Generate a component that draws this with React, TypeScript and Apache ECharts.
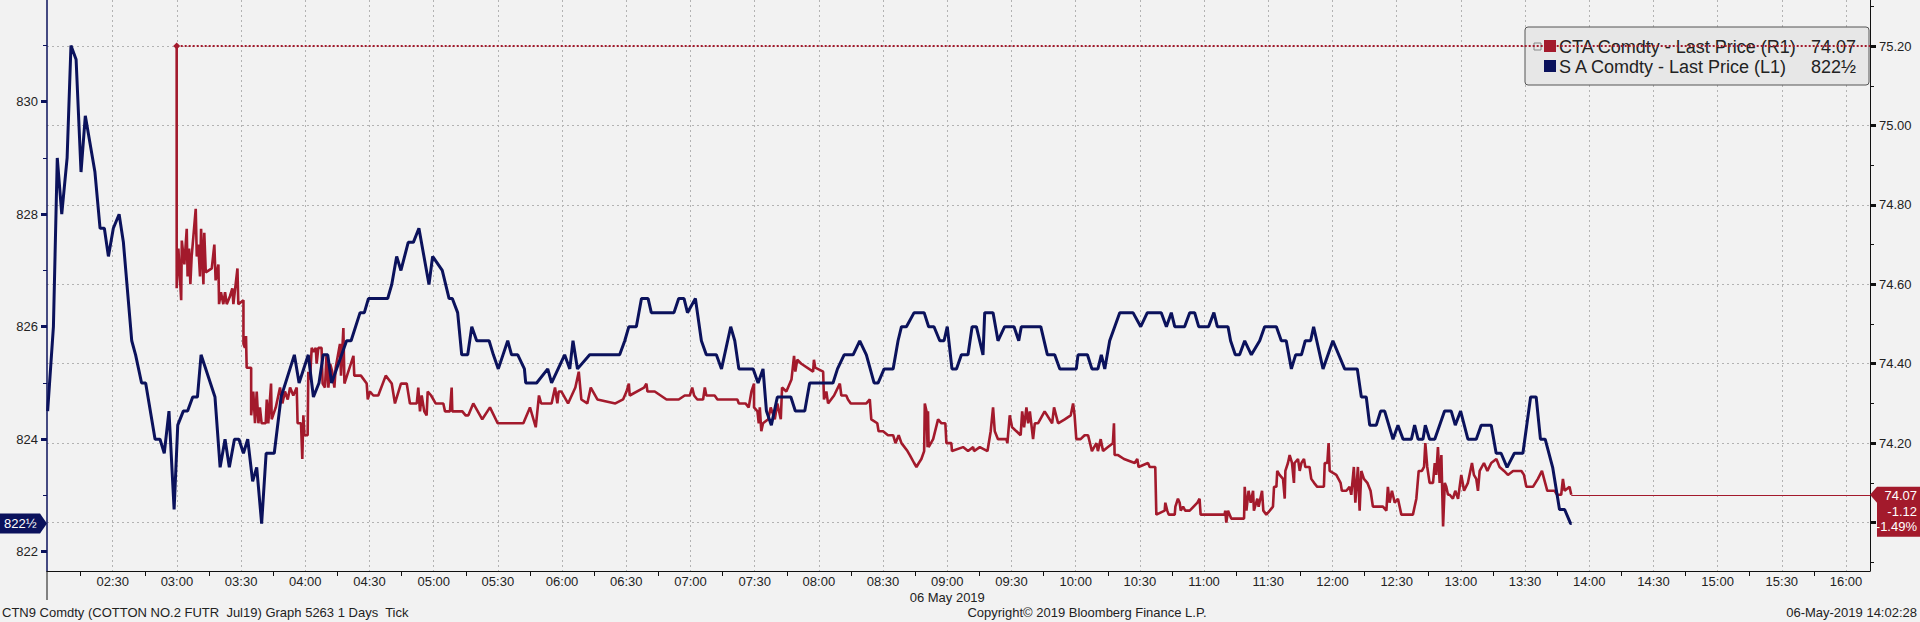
import React, { useEffect, useRef } from "react";
import * as echarts from "echarts";

// S A Comdty (soybeans, left axis) — [minutes after midnight, price]
const soyTicks: [number, number][] = [
  [119.6, 824.5], [122.3, 826], [124.1, 829], [126.2, 828], [128.7, 829], [130.5, 831], [132.9, 830.75],
  [135.2, 828.75], [137.2, 829.75], [141.7, 828.75], [144.1, 827.75], [146.1, 827.75], [148, 827.25],
  [150.3, 827.75], [153, 828], [155, 827.5], [158.9, 825.75], [160.7, 825.5], [163.5, 825], [165.4, 825],
  [169.8, 824], [172.1, 824], [174.1, 823.75], [176.3, 824.5], [178.7, 822.75], [180.4, 824.25], [183, 824.5],
  [185, 824.5], [187.4, 824.75], [189.6, 824.75], [191.3, 825.5], [197.8, 824.75], [200.2, 823.5], [202.5, 824],
  [204.5, 823.5], [206.9, 824], [209, 824], [211.1, 823.75], [213.1, 824], [215.4, 823.25], [217.3, 823.5],
  [219.6, 822.5], [221.7, 823.75], [225.5, 823.75], [228.7, 824.75], [234.9, 825.5], [237.1, 825], [241.4, 825.5],
  [243.8, 824.75], [246.4, 825], [248.4, 825.5], [250.5, 825.5], [252.3, 825], [259.3, 825.75], [261.4, 825.75],
  [265.6, 826.25], [267.6, 826.25], [269.5, 826.5], [278.5, 826.5], [280.4, 826.75], [282.7, 827.25], [284.7, 827],
  [288.1, 827.5], [290.5, 827.5], [293.1, 827.75], [297.8, 826.75], [299.5, 827.25], [304, 827], [307.2, 826.5],
  [308.7, 826.5], [311.2, 826.25], [313.1, 825.5], [315.9, 825.5], [317.8, 826], [320.1, 825.75], [325.9, 825.75],
  [327.9, 825.5], [330.2, 825.25], [334.6, 825.75], [336.4, 825.5], [339.3, 825.5], [342.4, 825.25], [343, 825],
  [348.1, 825], [353.3, 825.25], [355.1, 825],
];
const soyTicksMid: [number, number][] = [
  [361.2, 825.5], [363.6, 825.25], [365.1, 825.75], [367.2, 825.25], [372.9, 825.5], [386.9, 825.5], [389.3, 825.75],
  [391.2, 826], [394.7, 826], [397.1, 826.5], [400.2, 826.5], [401.7, 826.25], [412.3, 826.25], [414.5, 826.5],
  [417, 826.5], [418.6, 826.25], [422.3, 826.5], [425.1, 825.75], [427.4, 825.5], [432.1, 825.5], [434.5, 825.25],
  [438.8, 826], [440.7, 825.75], [442.6, 825.25], [449.3, 825.25], [451.6, 825], [453.9, 825.25], [455.5, 824.5],
  [457.8, 824.25], [460.6, 824.75], [466.9, 824.75], [469, 824.5], [473.4, 824.5], [475.7, 825], [486.6, 825],
  [488.7, 825.25], [491.8, 825.5], [496, 825.5], [499.1, 825.75], [502.2, 825.5], [505.8, 825], [507.7, 825],
  [510.5, 825.25], [514.7, 825.25], [517, 825.75], [518.6, 826], [520.9, 826], [524.5, 826.25], [529.2, 826.25],
  [531.3, 826], [533.8, 826], [536.5, 825.75], [538.5, 825.75], [540, 826], [542.2, 825.25], [544.3, 825.25],
  [546.6, 825.5], [549.7, 825.5], [551.6, 826], [553.6, 826], [556.7, 825.5], [557.5, 826.25], [561.4, 826.25],
  [563.7, 825.75], [566.8, 826], [571.2, 826], [573.4, 825.75], [574.6, 826], [583.7, 826], [586.8, 825.5],
  [590.2, 825.5], [592.6, 825.25],
];
const soyTicksLate: [number, number][] = [
  [600.3, 825.25], [601.1, 825.5], [605.5, 825.5], [607.6, 825.25], [610.4, 825.25], [612, 825.5], [613.6, 825.25],
  [615.9, 825.75], [620.6, 826.25], [626.8, 826.25], [630.4, 826], [633.5, 826.25], [640, 826.25], [642.4, 826],
  [644.7, 826.25], [646.3, 826], [650.9, 826], [653.3, 826.25], [655.6, 826.25], [657.5, 826], [662.1, 826],
  [664.6, 826.25], [666.2, 826], [671.2, 826], [672.4, 825.75], [674.6, 825.5], [676.6, 825.5], [679, 825.75],
  [682.1, 825.5], [686, 825.75], [688.3, 826], [693.8, 826], [696.1, 825.75], [698.4, 825.75], [700.8, 825.25],
  [702.8, 825.5], [705.5, 825.5], [707.3, 825.75], [709.8, 825.75], [711.2, 826], [715.6, 825.25], [720.2, 825.75],
  [725.7, 825.25], [731.6, 825.25], [733.5, 824.75], [735.8, 824.75], [737.4, 824.25], [740.5, 824.25],
  [742.5, 824.5], [744.4, 824.5], [748.3, 824], [750.6, 824.25], [753, 824], [756.9, 824], [758.4, 824.25],
  [760, 824], [762.3, 824], [763.4, 824.25], [765.4, 824], [767.8, 824], [772.4, 824.5], [775.5, 824.5],
  [777.4, 824.25], [779.9, 824.5], [783.3, 824], [787.2, 824], [789.5, 824.25], [794.2, 824.25], [796.5, 823.75],
  [798.8, 823.75], [801.6, 823.5], [805, 823.75], [809, 823.75], [812.6, 824.75], [815.2, 824.75], [817.2, 824],
  [819.4, 824], [822.9, 823.5], [826.1, 822.75], [828.5, 822.75], [831.3, 822.5], [831.8, 822.5],
];

// CTA Comdty (cotton, right axis) — [minutes after midnight, price]
const cottonTicks: [number, number][] = [
  [179.9, 75.2], [179.9, 74.59], [180.7, 74.69], [182, 74.56], [182.3, 74.71], [183.5, 74.65], [184.6, 74.74],
  [185, 74.62], [185.7, 74.69], [186.3, 74.6], [186.9, 74.67], [188.8, 74.79], [189.3, 74.67], [190, 74.7],
  [190.8, 74.62], [191.3, 74.74], [192.4, 74.6], [192.8, 74.73], [193.5, 74.63], [196.3, 74.64], [197.5, 74.7],
  [198.1, 74.61], [199.4, 74.65], [199.7, 74.55], [200.6, 74.58], [201.7, 74.55], [202.5, 74.58], [203.3, 74.55],
  [204.8, 74.57], [205.9, 74.59], [206.4, 74.55], [208.3, 74.64], [208.7, 74.55], [211.1, 74.56], [211.1, 74.45],
  [211.8, 74.44], [212.3, 74.47], [212.6, 74.39], [214.7, 74.39], [214.7, 74.27], [215.7, 74.33], [216.5, 74.25],
  [217.3, 74.33], [218.1, 74.25], [218.8, 74.29], [219.6, 74.25], [221.5, 74.25], [222, 74.31], [222.7, 74.25],
  [224, 74.35], [224.3, 74.26], [226.2, 74.29], [227.4, 74.32], [228.2, 74.34], [229.3, 74.3], [230.5, 74.33],
  [231.8, 74.31], [232.9, 74.34], [234.4, 74.32], [236, 74.34], [236.4, 74.25], [238, 74.25], [238.6, 74.16],
  [239.1, 74.27], [239.6, 74.22], [241.1, 74.22], [241.4, 74.38], [242.2, 74.36], [243, 74.44], [243.8, 74.43],
  [244.9, 74.44], [245.3, 74.4], [246.1, 74.44], [247.6, 74.44], [248.1, 74.35], [249.2, 74.34], [249.9, 74.42],
  [250.8, 74.34], [251.6, 74.4], [252.6, 74.38], [253.6, 74.34], [254.2, 74.39], [256.2, 74.45], [256.7, 74.37],
  [257.8, 74.49], [258.3, 74.35], [260.1, 74.38], [262.5, 74.42], [262.9, 74.37], [266, 74.37], [268.7, 74.35],
  [269.2, 74.31], [270.2, 74.33], [271.8, 74.32], [274.1, 74.32], [277.6, 74.37], [280.4, 74.35], [281.9, 74.3],
  [284.7, 74.35], [287.4, 74.35], [288.9, 74.3], [292.1, 74.3], [292.8, 74.34], [293.6, 74.28], [294.4, 74.32],
  [295.6, 74.28], [296.7, 74.27], [297.2, 74.33], [298.8, 74.32], [300.9, 74.3], [304.5, 74.3], [305.3, 74.28],
  [307.6, 74.28], [308.4, 74.34], [308.7, 74.28], [312.3, 74.28], [313.4, 74.28], [314.9, 74.27], [316.2, 74.27],
  [318.5, 74.3], [322.7, 74.26], [326.3, 74.29], [329.9, 74.25], [341.9, 74.25], [345, 74.29], [347.7, 74.24],
  [349.2, 74.32], [350.2, 74.3], [355.1, 74.3], [356.7, 74.34],
];
const cottonTicksMid: [number, number][] = [
  [357.8, 74.3], [358.4, 74.33], [359.7, 74.33], [362.8, 74.3], [366.2, 74.34], [367.8, 74.38], [369, 74.31],
  [371.8, 74.3], [373.4, 74.34], [376.5, 74.31], [384.9, 74.3], [388.5, 74.31], [390.1, 74.33], [391.2, 74.35],
  [391.6, 74.32], [398.3, 74.34], [399.4, 74.35], [399.9, 74.33], [403.3, 74.33], [408.8, 74.31], [414.5, 74.31],
  [417.3, 74.32], [419.7, 74.32], [420.8, 74.34], [421.7, 74.32], [423.2, 74.31], [425.9, 74.31], [426.7, 74.34],
  [427.4, 74.32], [431.3, 74.32], [432.6, 74.31], [441.9, 74.31], [442.6, 74.3], [445.7, 74.3], [447.2, 74.29],
  [448.5, 74.33], [449.7, 74.35], [449.7, 74.29], [451.3, 74.28], [451.9, 74.25], [452.4, 74.29], [453.1, 74.23],
  [453.9, 74.25], [456.3, 74.26], [457.5, 74.29], [459.4, 74.26], [460.6, 74.3], [462.2, 74.26], [462.8, 74.34],
  [464.8, 74.33], [467.2, 74.36], [468.4, 74.42], [469, 74.38], [469.9, 74.41], [471.8, 74.4], [477.3, 74.38],
  [477.7, 74.41], [478.3, 74.39], [482, 74.38], [482.4, 74.31], [483.5, 74.33], [484.3, 74.3], [487.1, 74.32],
  [489.8, 74.35], [490.5, 74.32], [492.8, 74.32], [493.6, 74.31], [494.9, 74.3], [502.2, 74.3], [503.8, 74.31],
  [504.5, 74.26], [507.3, 74.25], [507.9, 74.23], [510, 74.23], [512.3, 74.22], [514.7, 74.22], [515.8, 74.2],
  [517.3, 74.22], [518.6, 74.2], [521.4, 74.18], [522.5, 74.17], [524.5, 74.15], [525.6, 74.14], [526.7, 74.15],
  [527.9, 74.16], [529.2, 74.18], [529.5, 74.3], [530.3, 74.28], [530.8, 74.19], [531, 74.28], [531.3, 74.19],
  [533.4, 74.21], [535.7, 74.26], [537.3, 74.25], [539.1, 74.25], [539.6, 74.2], [541.9, 74.2], [542.2, 74.18],
  [547.4, 74.19], [549.7, 74.18], [552.1, 74.19], [552.5, 74.18], [555.2, 74.19], [558.8, 74.18], [560.3, 74.23],
  [561.4, 74.29], [562.2, 74.23], [563.7, 74.21], [567.6, 74.21], [568.1, 74.2], [569.2, 74.27], [570.3, 74.24],
  [574.3, 74.22], [575, 74.28], [575.9, 74.24], [577, 74.29], [577.8, 74.25], [578.6, 74.28], [580.1, 74.21],
  [580.9, 74.25], [582.4, 74.25], [585.5, 74.28], [589, 74.25], [589.9, 74.29], [591.8, 74.25], [594.9, 74.26],
];
const cottonTicksLate: [number, number][] = [
  [597.7, 74.27], [598.8, 74.3], [599.5, 74.27], [600.3, 74.21], [602.3, 74.21], [604.2, 74.22], [605.8, 74.22],
  [607.6, 74.18], [609.7, 74.2], [610.4, 74.18], [611.7, 74.21], [612.8, 74.18], [615.1, 74.19], [617.4, 74.2],
  [617.9, 74.25], [618.2, 74.17], [619.8, 74.17], [622.6, 74.16], [627.6, 74.15], [628.8, 74.16], [629.4, 74.14],
  [633.8, 74.15], [634.6, 74.14], [637.2, 74.14], [637.7, 74.02], [641.6, 74.03], [641.9, 74.05], [642.8, 74.03],
  [643.5, 74.02], [646.3, 74.02], [646.6, 74.04], [647.8, 74.06], [648.6, 74.05], [649.1, 74.03], [650.2, 74.04],
  [651.2, 74.03], [653.3, 74.03], [656.9, 74.05], [657.9, 74.06], [658.4, 74.02], [669.6, 74.02], [669.9, 74.03],
  [670.4, 74.0], [671.2, 74.03], [672.7, 74.01], [678.7, 74.01], [679, 74.09], [679.8, 74.03], [680.8, 74.08],
  [681.8, 74.05], [682.9, 74.08], [683.3, 74.03], [684.9, 74.06], [685.5, 74.04], [687.1, 74.08], [687.7, 74.03],
  [689.1, 74.02], [690.7, 74.03], [692.2, 74.04], [692.7, 74.09], [693.8, 74.09], [694.2, 74.13], [695.3, 74.12],
  [696.9, 74.11], [697.7, 74.06], [698, 74.13], [699.2, 74.15], [700, 74.17], [701.1, 74.15], [702, 74.1],
  [702.3, 74.15], [703.9, 74.16], [704.7, 74.13], [705.5, 74.15], [706.7, 74.16], [707.3, 74.14], [709.3, 74.14],
  [710.1, 74.11], [711.4, 74.1], [712.9, 74.09], [716, 74.09], [716.4, 74.15], [717.6, 74.15], [718.2, 74.2],
  [718.7, 74.13], [721.8, 74.12], [723.8, 74.1], [724.4, 74.08], [726.5, 74.08], [728, 74.09], [728.8, 74.07],
  [730, 74.14], [730.7, 74.05], [731.9, 74.14], [732.7, 74.03], [733.5, 74.13], [734.7, 74.11], [736.3, 74.1],
  [737.8, 74.08], [738.9, 74.04], [743.6, 74.04], [745.2, 74.03], [745.9, 74.09], [746.7, 74.05], [747.8, 74.08],
  [749.1, 74.05], [750.6, 74.06], [752.2, 74.02], [757.6, 74.02], [759.2, 74.06], [760.3, 74.13], [761.8, 74.13],
  [762.8, 74.14], [763.4, 74.2], [764.3, 74.14], [765.4, 74.1], [767, 74.1], [767.8, 74.15], [768.5, 74.12],
  [769.3, 74.19], [770.1, 74.1], [770.9, 74.17], [771.7, 73.99], [772.5, 74.1], [773.2, 74.09], [774, 74.07],
  [774.8, 74.07], [776.3, 74.06], [777.4, 74.08], [778.7, 74.06], [780.2, 74.12], [781.5, 74.08], [783.3, 74.1],
  [785.2, 74.15], [786.1, 74.12], [787.2, 74.11], [788, 74.08], [788.8, 74.13], [790.8, 74.15], [792.4, 74.13],
  [794.2, 74.15], [796.6, 74.16], [798.1, 74.14], [800.2, 74.13], [802, 74.12], [804.4, 74.13], [808.3, 74.13],
  [809.5, 74.12], [810.6, 74.09], [813.7, 74.09], [816, 74.11], [817.9, 74.13], [819.4, 74.1], [820.4, 74.08],
  [823.8, 74.08], [825, 74.07], [826.9, 74.07], [827.7, 74.11], [828.5, 74.08], [830.8, 74.09], [831.6, 74.07],
];

// axes
const timeRange = [119.3, 971.2];
const soyRange = [821.657, 831.808];
const cottonRange = [73.878, 75.316];
const timeLabelMinutes = [150, 180, 210, 240, 270, 300, 330, 360, 390, 420, 450, 480, 510, 540, 570, 600, 630, 660, 690, 720, 750, 780, 810, 840, 870, 900, 930, 960];
const timeTickMinutes = [135, 165, 195, 225, 255, 285, 315, 345, 375, 405, 435, 465, 495, 525, 555, 585, 615, 645, 675, 705, 735, 765, 795, 825, 855, 885, 915, 945];
const soyLabelValues = [822, 824, 826, 828, 830];
const soyTickValues = [822, 823, 824, 825, 826, 827, 828, 829, 830, 831];
const cottonLabelValues = [74.2, 74.4, 74.6, 74.8, 75.0, 75.2];
const cottonGridValues = [74.0, 74.2, 74.4, 74.6, 74.8, 75.0, 75.2];
const cottonTickValues = [73.9, 74.0, 74.1, 74.2, 74.3, 74.4, 74.5, 74.6, 74.7, 74.8, 74.9, 75.0, 75.1, 75.2, 75.3];

const cottonName = "CTA Comdty - Last Price (R1)";
const soyName = "S A Comdty - Last Price (L1)";
const cottonLastText = "74.07";
const soyLastText = "822\u00BD";
const cottonChange = "-1.12";
const cottonChangePct = "-1.49%";
const sessionDate = "06 May 2019";
const sessionDateMinute = 540;

const RED = "#a31a2c";
const NAVY = "#0b125c";
const BG = "#f2f2f2";
const FONT = "'Liberation Sans', Arial, sans-serif";
const GRIDLINE = { color: "#b3b3b3", width: 1, type: [2, 3] as number[] };

const fmtTime = (v: number) => {
  const m = Math.round(v);
  return String(Math.floor(m / 60)).padStart(2, "0") + ":" + String(m % 60).padStart(2, "0");
};

export default function App() {
  const ref = useRef<HTMLDivElement>(null);
  useEffect(() => {
    if (!ref.current) return;
    const chart = echarts.init(ref.current, null, { renderer: "svg" });
    const soy = [...soyTicks, ...soyTicksMid, ...soyTicksLate];
    const cotton = [...cottonTicks, ...cottonTicksMid, ...cottonTicksLate];
    const cottonHigh = cotton.reduce((a, b) => (b[1] > a[1] ? b : a));
    const cottonLast = cotton[cotton.length - 1];
    const soyLast = soy[soy.length - 1];

    chart.setOption({
      animation: false,
      backgroundColor: BG,
      textStyle: { fontFamily: FONT },
      grid: { left: 47, right: 50, top: 0, bottom: 51, containLabel: false },
      xAxis: [
        {
          type: "value", min: timeRange[0], max: timeRange[1], position: "bottom",
          axisLine: { show: true, lineStyle: { color: "#111", width: 1 } },
          axisTick: { show: true, length: 5, lineStyle: { color: "#111" }, customValues: timeTickMinutes },
          axisLabel: { show: true, customValues: timeLabelMinutes, formatter: fmtTime, fontSize: 13, color: "#222", margin: 4, fontFamily: FONT },
          splitLine: { show: false },
        },
        {
          type: "value", min: timeRange[0], max: timeRange[1], position: "bottom",
          axisLine: { show: false },
          axisTick: { show: false, customValues: timeLabelMinutes },
          axisLabel: { show: false },
          splitLine: { show: true, lineStyle: GRIDLINE },
        },
      ],
      yAxis: [
        {
          type: "value", position: "left", min: soyRange[0], max: soyRange[1],
          axisLine: { show: true, lineStyle: { color: NAVY, width: 1.5 } },
          axisTick: { show: true, length: 4, lineStyle: { color: NAVY }, customValues: soyTickValues },
          axisLabel: { show: true, customValues: soyLabelValues, fontSize: 13, color: "#222", margin: 9, fontFamily: FONT },
          splitLine: { show: false },
        },
        {
          type: "value", position: "right", min: cottonRange[0], max: cottonRange[1],
          axisLine: { show: true, lineStyle: { color: "#111", width: 1 } },
          axisTick: { show: true, length: 4, lineStyle: { color: "#111" }, customValues: cottonTickValues },
          axisLabel: { show: true, customValues: cottonLabelValues, formatter: (v: number) => v.toFixed(2), fontSize: 13, color: "#222", margin: 9, fontFamily: FONT },
          splitLine: { show: false },
        },
        {
          type: "value", position: "right", min: cottonRange[0], max: cottonRange[1],
          axisLine: { show: false },
          axisTick: { show: true, length: 6, lineStyle: { color: "#111", width: 3 }, customValues: cottonGridValues },
          axisLabel: { show: false },
          splitLine: { show: true, lineStyle: GRIDLINE },
        },
        {
          type: "value", position: "left", min: soyRange[0], max: soyRange[1],
          axisLine: { show: false },
          axisTick: { show: true, length: 6, lineStyle: { color: NAVY, width: 3 }, customValues: soyLabelValues },
          axisLabel: { show: false },
          splitLine: { show: false },
        },
      ],
      series: [
        {
          name: cottonName, type: "line", xAxisIndex: 0, yAxisIndex: 1, data: cotton,
          showSymbol: false, symbol: "none", z: 3,
          lineStyle: { color: RED, width: 2.6 }, itemStyle: { color: RED },
          markLine: {
            silent: true, animation: false, symbol: ["none", "none"], label: { show: false },
            data: [
              [
                { coord: [cottonHigh[0], cottonHigh[1]], symbol: "diamond", symbolSize: 7, lineStyle: { color: RED, width: 2, type: [2, 2] } },
                { coord: [timeRange[1], cottonHigh[1]], symbol: "none" },
              ],
              [
                { coord: [cottonLast[0], cottonLast[1]], lineStyle: { color: RED, width: 1, type: "solid" } },
                { coord: [timeRange[1], cottonLast[1]] },
              ],
            ],
          },
        },
        {
          name: soyName, type: "line", xAxisIndex: 0, yAxisIndex: 0, data: soy,
          showSymbol: false, symbol: "none", z: 4,
          lineStyle: { color: NAVY, width: 3 }, itemStyle: { color: NAVY },
        },
      ],
    });

    const dateX = chart.convertToPixel({ xAxisIndex: 0 }, sessionDateMinute) as number;
    const soyY = chart.convertToPixel({ yAxisIndex: 0 }, soyLast[1]) as number;
    const cotY = chart.convertToPixel({ yAxisIndex: 1 }, cottonLast[1]) as number;
    const axL = chart.convertToPixel({ xAxisIndex: 0 }, timeRange[0]) as number;
    const axR = chart.convertToPixel({ xAxisIndex: 0 }, timeRange[1]) as number;
    const axB = chart.convertToPixel({ yAxisIndex: 0 }, soyRange[0]) as number;

    const txt = (text: string, x: number, y: number, size: number, fill: string, align = "left", z = 50) => ({
      type: "text", z, silent: true,
      style: { text, x, y, fill, fontSize: size, fontFamily: FONT, align, textAlign: align, verticalAlign: "middle", textVerticalAlign: "middle" },
    });

    chart.setOption({
      graphic: [
        // legend box
        { type: "rect", z: 1, silent: true, shape: { x: 1525, y: 27, width: 344, height: 58, r: 3 }, style: { fill: "#e7e7e7", stroke: "#555", lineWidth: 1 } },
        { type: "rect", z: 1, silent: true, shape: { x: 1534, y: 43, width: 7, height: 7 }, style: { fill: "none", stroke: "#888", lineWidth: 1 } },
        { type: "rect", z: 1, silent: true, shape: { x: 1544, y: 40, width: 12, height: 12 }, style: { fill: RED } },
        { type: "rect", z: 1, silent: true, shape: { x: 1544, y: 60, width: 12, height: 12 }, style: { fill: NAVY } },
        txt(cottonName, 1559, 47, 18, "#222", "left", 1),
        txt(cottonLastText, 1856, 47, 18, "#222", "right", 1),
        txt(soyName, 1559, 67, 18, "#222", "left", 1),
        txt(soyLastText, 1856, 67, 18, "#222", "right", 1),
        // last-value box, left (soy)
        {
          type: "polygon", z: 60, silent: true,
          shape: { points: [[0, soyY - 10], [40, soyY - 10], [axL, soyY], [40, soyY + 10], [0, soyY + 10]] },
          style: { fill: NAVY },
        },
        txt(soyLastText, 4, soyY, 13, "#fff", "left", 61),
        // last-value box, right (cotton)
        {
          type: "polygon", z: 60, silent: true,
          shape: { points: [[axR, cotY], [axR + 7, cotY - 8], [1920, cotY - 8], [1920, cotY + 42], [axR + 7, cotY + 42], [axR + 7, cotY + 8]] },
          style: { fill: RED },
        },
        txt(cottonLastText, 1917, cotY + 1, 13, "#fff", "right", 61),
        txt(cottonChange, 1917, cotY + 16.5, 13, "#fff", "right", 61),
        txt(cottonChangePct, 1917, cotY + 32, 13, "#fff", "right", 61),
        // separator below the left axis
        { type: "line", z: 5, silent: true, shape: { x1: axL, y1: axB, x2: axL, y2: 600 }, style: { stroke: "#111", lineWidth: 1 } },
        // footer
        txt(sessionDate, dateX, 597, 13, "#222", "center"),
        txt("CTN9 Comdty (COTTON NO.2 FUTR  Jul19) Graph 5263 1 Days  Tick", 2, 612, 13, "#222", "left"),
        txt("Copyright\u00A9 2019 Bloomberg Finance L.P.", 1087, 612, 13, "#222", "center"),
        txt("06-May-2019 14:02:28", 1917, 612, 13, "#222", "right"),
      ],
    });

    return () => chart.dispose();
  }, []);

  return (
    <div style={{ position: "absolute", left: 0, top: 0, width: 1920, height: 622, background: BG, overflow: "hidden" }}>
      <div ref={ref} style={{ width: 1920, height: 622 }} />
    </div>
  );
}
